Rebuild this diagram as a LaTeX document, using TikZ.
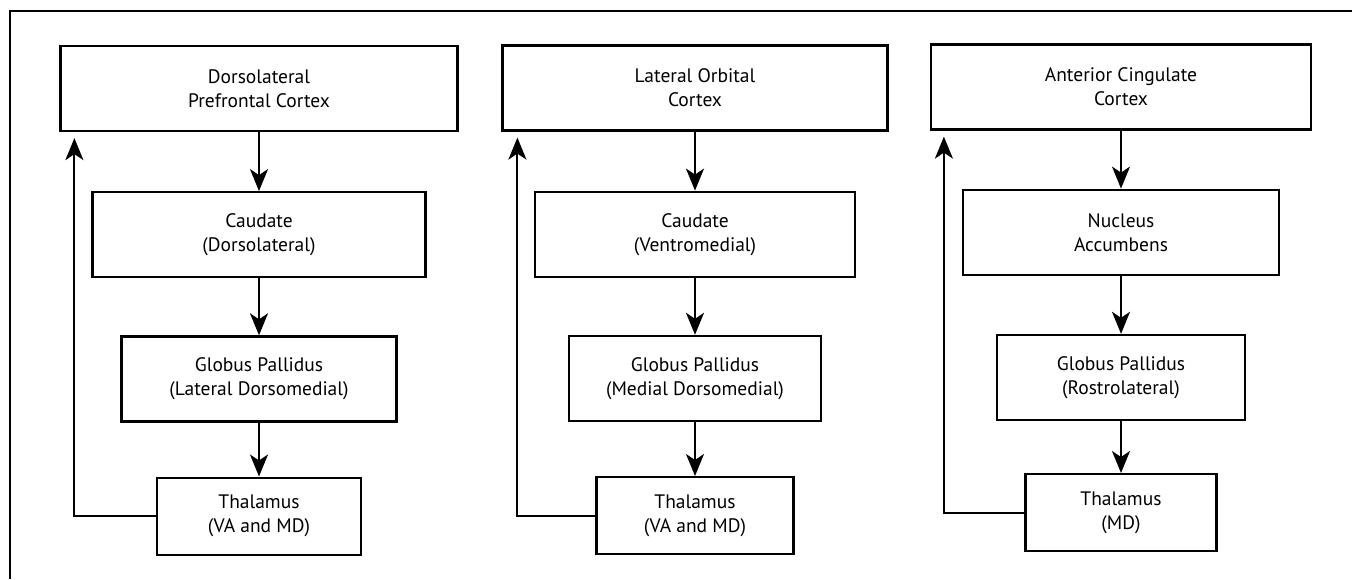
\documentclass[tikz,border=0pt]{standalone}
\usepackage{fontspec}
\setmainfont{PT Sans}
\usetikzlibrary{arrows.meta, positioning}

\begin{document}
\begin{tikzpicture}[
        x=1pt, y=1pt,
        node distance=57pt,
        box/.style={rectangle, draw, line width=2.2pt, align=center, inner sep=0pt, minimum height=85pt, font=\fontsize{19.5}{24}\selectfont},
        thalbox/.style={box, minimum height=77pt},
        arrow/.style={line width=2pt, -{Stealth[length=22pt, width=18pt, inset=6pt]}}
        ]
        \useasboundingbox (0,0) rectangle (1352,-579);
        \draw[line width=1.6pt] (10,-579) -- (10,-11) -- (1352,-11);

        % dorsolateral prefrontal circuit
        \node[box, minimum width=397pt] (dlpfc) at (259,-88.5) {Dorsolateral\\Prefrontal Cortex};
        \node[box, minimum width=333pt, below=59pt of dlpfc] (caudDL) {Caudate\\(Dorsolateral)};
        \node[box, minimum width=275pt, below=of caudDL] (gpLDM) {Globus Pallidus\\(Lateral Dorsomedial)};
        \node[thalbox, minimum width=204pt, below=54pt of gpLDM] (thalA) {Thalamus\\(VA and MD)};

        % lateral orbitofrontal circuit
        \node[box, minimum width=385pt] (lofc) at (695,-88) {Lateral Orbital\\Cortex};
        \node[box, minimum width=320pt, below=59pt of lofc] (caudVM) {Caudate\\(Ventromedial)};
        \node[box, minimum width=252pt, below=of caudVM] (gpMDM) {Globus Pallidus\\(Medial Dorsomedial)};
        \node[thalbox, minimum width=197pt, below=54pt of gpMDM] (thalB) {Thalamus\\(VA and MD)};

        % anterior cingulate circuit
        \node[box, minimum width=380pt] (acc) at (1121,-87) {Anterior Cingulate\\Cortex};
        \node[box, minimum width=316pt, below=58pt of acc] (nacc) {Nucleus\\Accumbens};
        \node[box, minimum width=248pt, below=58pt of nacc] (gpRL) {Globus Pallidus\\(Rostrolateral)};
        \node[thalbox, minimum width=191pt, below=52pt of gpRL] (thalC) {Thalamus\\(MD)};

        \draw[arrow] (dlpfc) -- (caudDL);
        \draw[arrow] (caudDL) -- (gpLDM);
        \draw[arrow] (gpLDM) -- (thalA);
        \draw[arrow] (thalA.west) -| ([xshift=15pt, yshift=-6pt]dlpfc.south west);

        \draw[arrow] (lofc) -- (caudVM);
        \draw[arrow] (caudVM) -- (gpMDM);
        \draw[arrow] (gpMDM) -- (thalB);
        \draw[arrow] (thalB.west) -| ([xshift=16pt, yshift=-6pt]lofc.south west);

        \draw[arrow] (acc) -- (nacc);
        \draw[arrow] (nacc) -- (gpRL);
        \draw[arrow] (gpRL) -- (thalC);
        \draw[arrow] (thalC.west) -| ([xshift=14pt, yshift=-6pt]acc.south west);
    \end{tikzpicture}
\end{document}
